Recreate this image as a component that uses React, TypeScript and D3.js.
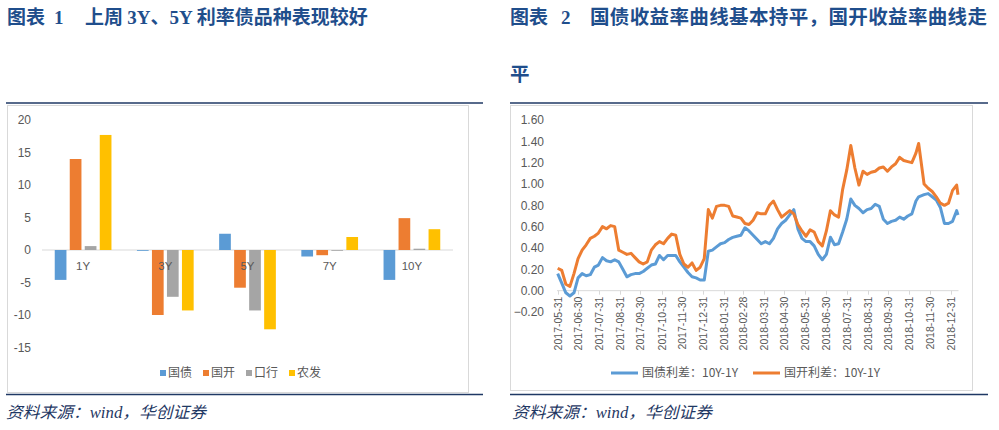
import React from "react";
import * as d3 from "d3";

// chart 1: weekly change by tenor (bp)
const categories = ["1Y", "3Y", "5Y", "7Y", "10Y"];
const barSeries = ["国债", "国开", "口行", "农发"];
const guozhai = [-4.6, -0.1, 2.5, -1.0, -4.6];
const guokai = [14.0, -10.0, -5.8, -0.8, 4.9];
const kouhang = [0.6, -7.2, -9.3, -0.1, 0.2];
const nongfa = [17.7, -9.3, -12.2, 2.0, 3.2];
const barTicks = [20, 15, 10, 5, 0, -5, -10, -15];
const barColors = ["#5b9bd5", "#ed7d31", "#a5a5a5", "#ffc000"];

// chart 2: 10Y-1Y spreads
const spreadDates = [
  "2017-05-31", "2017-06-06", "2017-06-12", "2017-06-18", "2017-06-24", "2017-06-30",
  "2017-07-06", "2017-07-12", "2017-07-18", "2017-07-24", "2017-07-30", "2017-08-05",
  "2017-08-11", "2017-08-17", "2017-08-23", "2017-08-29", "2017-09-04", "2017-09-10",
  "2017-09-16", "2017-09-22", "2017-09-28", "2017-10-04", "2017-10-10", "2017-10-16",
  "2017-10-22", "2017-10-28", "2017-11-03", "2017-11-09", "2017-11-15", "2017-11-21",
  "2017-11-27", "2017-12-03", "2017-12-09", "2017-12-15", "2017-12-21", "2017-12-27",
  "2018-01-02", "2018-01-08", "2018-01-14", "2018-01-20", "2018-01-26", "2018-02-01",
  "2018-02-07", "2018-02-13", "2018-02-19", "2018-02-25", "2018-03-03", "2018-03-09",
  "2018-03-15", "2018-03-21", "2018-03-27", "2018-04-02", "2018-04-08", "2018-04-14",
  "2018-04-20", "2018-04-26", "2018-05-02", "2018-05-08", "2018-05-14", "2018-05-20",
  "2018-05-26", "2018-06-01", "2018-06-07", "2018-06-13", "2018-06-19", "2018-06-25",
  "2018-07-01", "2018-07-07", "2018-07-13", "2018-07-19", "2018-07-25", "2018-07-31",
  "2018-08-06", "2018-08-12", "2018-08-18", "2018-08-24", "2018-08-30", "2018-09-05",
  "2018-09-11", "2018-09-17", "2018-09-23", "2018-09-29", "2018-10-05", "2018-10-11",
  "2018-10-17", "2018-10-23", "2018-10-29", "2018-11-04", "2018-11-10", "2018-11-14",
  "2018-11-22", "2018-11-28", "2018-12-04", "2018-12-10", "2018-12-16", "2018-12-22",
  "2018-12-28", "2019-01-03", "2019-01-09", "2019-01-11",
];
const gbSpread = [
  0.16, 0.07, -0.02, -0.05, -0.02, 0.12, 0.16, 0.14, 0.15, 0.22,
  0.24, 0.31, 0.28, 0.27, 0.29, 0.27, 0.2, 0.13, 0.15, 0.16,
  0.16, 0.18, 0.21, 0.24, 0.25, 0.33, 0.29, 0.33, 0.33, 0.33,
  0.27, 0.22, 0.17, 0.13, 0.12, 0.1, 0.1, 0.37, 0.38, 0.41,
  0.44, 0.45, 0.48, 0.5, 0.51, 0.52, 0.59, 0.56, 0.52, 0.48,
  0.44, 0.46, 0.44, 0.49, 0.58, 0.63, 0.66, 0.71, 0.76, 0.58,
  0.49, 0.46, 0.46, 0.42, 0.34, 0.29, 0.34, 0.5, 0.43, 0.44,
  0.55, 0.67, 0.86, 0.8, 0.77, 0.73, 0.76, 0.77, 0.81, 0.79,
  0.67, 0.63, 0.65, 0.66, 0.69, 0.67, 0.7, 0.72, 0.84, 0.88,
  0.9, 0.91, 0.88, 0.85, 0.78, 0.63, 0.63, 0.65, 0.75, 0.71,
];
const gkSpread = [
  0.21, 0.19, 0.06, 0.04, 0.16, 0.3, 0.38, 0.43, 0.49, 0.51,
  0.54, 0.6, 0.58, 0.61, 0.6, 0.38, 0.36, 0.34, 0.35, 0.31,
  0.27, 0.25, 0.27, 0.38, 0.43, 0.46, 0.44, 0.49, 0.53, 0.52,
  0.34, 0.25, 0.22, 0.26, 0.19, 0.22, 0.3, 0.76, 0.68, 0.79,
  0.8, 0.8, 0.79, 0.7, 0.69, 0.68, 0.63, 0.62, 0.66, 0.73,
  0.72, 0.72, 0.8, 0.84, 0.76, 0.69, 0.72, 0.75, 0.72, 0.62,
  0.56, 0.51, 0.57, 0.55, 0.46, 0.42, 0.56, 0.75, 0.71, 0.69,
  0.95, 1.13, 1.36, 1.15, 0.99, 1.12, 1.09, 1.11, 1.12, 1.15,
  1.16, 1.12, 1.16, 1.19, 1.25, 1.22, 1.21, 1.2, 1.29, 1.38,
  1.0, 0.96, 0.93, 0.88, 0.82, 0.8, 0.82, 0.94, 0.99, 0.9,
];
const monthTicks = [
  "2017-05-31", "2017-06-30", "2017-07-31", "2017-08-31", "2017-09-30", "2017-10-31",
  "2017-11-30", "2017-12-31", "2018-01-31", "2018-02-28", "2018-03-31", "2018-04-30",
  "2018-05-31", "2018-06-30", "2018-07-31", "2018-08-31", "2018-09-30", "2018-10-31",
  "2018-11-30", "2018-12-31",
];
const spreadTicks = [1.6, 1.4, 1.2, 1.0, 0.8, 0.6, 0.4, 0.2, 0.0, -0.2];

const NAVY = "#1f3864";
const TITLE = "#1f4e8c";
const GREY_TXT = "#595959";
const AXIS = "#d9d9d9";
const CJK = "'Noto Sans CJK SC', sans-serif";
const NUM = "'Liberation Sans', Arial, sans-serif";
const SERIF = "'Liberation Serif', 'Times New Roman', serif";

const parse = d3.timeParse("%Y-%m-%d");

function BarPanel() {
  const y = d3.scaleLinear().domain([-15, 20]).range([347.5, 120]);
  const x0 = d3.scaleBand().domain(categories).range([42, 453]).paddingInner(0.31).paddingOuter(0.155);
  const x1 = d3.scaleBand().domain(barSeries).range([0, x0.bandwidth()]).paddingInner(0.22);
  const seriesValues = [guozhai, guokai, kouhang, nongfa];

  return (
    <g>
      <rect x={7.5} y={105.5} width={461} height={287} fill="#fff" stroke={AXIS} />
      {barTicks.map((t) => (
        <text key={t} x={31} y={y(t)} dy="0.35em" textAnchor="end" fontSize={12} fontFamily={NUM} fill={GREY_TXT}>
          {t}
        </text>
      ))}
      <line x1={42} x2={453} y1={y(0)} y2={y(0)} stroke={AXIS} />
      {categories.map((c, ci) =>
        barSeries.map((s, si) => {
          const v = seriesValues[si][ci];
          return (
            <rect
              key={c + s}
              x={(x0(c) as number) + (x1(s) as number)}
              y={Math.min(y(v), y(0))}
              width={x1.bandwidth()}
              height={Math.max(Math.abs(y(v) - y(0)), 0.8)}
              fill={barColors[si]}
            />
          );
        })
      )}
      {categories.map((c) => (
        <text key={c} x={(x0(c) as number) + x0.bandwidth() / 2} y={266} dy="0.35em" textAnchor="middle" fontSize={11.5} fontFamily={NUM} fill={GREY_TXT}>
          {c}
        </text>
      ))}
      {barSeries.map((s, i) => (
        <g key={s} transform={`translate(${160 + i * 43},373)`}>
          <rect x={0} y={-3} width={6} height={6} fill={barColors[i]} />
          <text x={8} y={0} dy="0.35em" fontSize={12} fontFamily={CJK} fill={GREY_TXT}>
            {s}
          </text>
        </g>
      ))}
    </g>
  );
}

function LinePanel() {
  const dates = spreadDates.map((d) => parse(d) as Date);
  const x = d3.scaleTime().domain([dates[0], dates[dates.length - 1]]).range([557.7, 958]);
  const y = d3.scaleLinear().domain([-0.2, 1.6]).range([312, 120]);
  const line = d3
    .line<number>()
    .x((_, i) => x(dates[i]))
    .y((v) => y(v));
  const fmt = d3.format(".2f");

  return (
    <g>
      <rect x={510.5} y={105.5} width={462} height={285} fill="#fff" stroke={AXIS} />
      {spreadTicks.map((t) => (
        <text key={t} x={544} y={y(t)} dy="0.35em" textAnchor="end" fontSize={12} fontFamily={NUM} fill={GREY_TXT}>
          {fmt(t)}
        </text>
      ))}
      <line x1={557} x2={958.5} y1={y(0)} y2={y(0)} stroke={AXIS} />
      {monthTicks.map((t) => {
        const tx = Math.round(x(parse(t) as Date)) + 0.5;
        return (
          <g key={t}>
            <line x1={tx} x2={tx} y1={y(0)} y2={y(0) + 4} stroke={AXIS} />
            <text
              transform={`translate(${tx},${y(0) + 6}) rotate(-90)`}
              dy="0.35em"
              textAnchor="end"
              fontSize={10.5}
              fontFamily={NUM}
              fill={GREY_TXT}
            >
              {t}
            </text>
          </g>
        );
      })}
      <path d={line(gbSpread) as string} fill="none" stroke="#5b9bd5" strokeWidth={3} strokeLinejoin="round" />
      <path d={line(gkSpread) as string} fill="none" stroke="#ed7d31" strokeWidth={3} strokeLinejoin="round" />
      <line x1={611} x2={638} y1={373} y2={373} stroke="#5b9bd5" strokeWidth={3} />
      <text x={642} y={373} dy="0.35em" fontSize={12} fontFamily={CJK} fill={GREY_TXT}>
        国债利差：10Y-1Y
      </text>
      <line x1={753} x2={780} y1={373} y2={373} stroke="#ed7d31" strokeWidth={3} />
      <text x={784} y={373} dy="0.35em" fontSize={12} fontFamily={CJK} fill={GREY_TXT}>
        国开利差：10Y-1Y
      </text>
    </g>
  );
}

export default function App() {
  return (
    <svg width={999} height={430} style={{ position: "absolute", left: 0, top: 0, background: "#fff" }}>
      <rect width={999} height={430} fill="#fff" />
      {/* titles */}
      <text y={24} fontSize={19} fontWeight="bold" fill={TITLE} fontFamily={CJK}>
        <tspan x={7}>图表</tspan>
        <tspan x={54} fontFamily={SERIF}>1</tspan>
        <tspan x={85}>上周 </tspan>
        <tspan fontFamily={SERIF}>3Y</tspan>
        <tspan>、</tspan>
        <tspan fontFamily={SERIF}>5Y </tspan>
        <tspan>利率债品种表现较好</tspan>
      </text>
      <text y={24} fontSize={19} fontWeight="bold" fill={TITLE} fontFamily={CJK}>
        <tspan x={510}>图表</tspan>
        <tspan x={561} fontFamily={SERIF}>2</tspan>
      </text>
      <text x={590} y={24} fontSize={19.5} fontWeight="bold" fill={TITLE} fontFamily={CJK} textLength={397} lengthAdjust="spacing">
        国债收益率曲线基本持平，国开收益率曲线走
      </text>
      <text x={510} y={81} fontSize={19.5} fontWeight="bold" fill={TITLE} fontFamily={CJK}>
        平
      </text>

      {/* rules */}
      <line x1={6} x2={483} y1={103} y2={103} stroke={NAVY} strokeWidth={1.5} />
      <line x1={510} x2={988} y1={103} y2={103} stroke={NAVY} strokeWidth={1.5} />
      <line x1={6} x2={483} y1={394.5} y2={394.5} stroke={NAVY} strokeWidth={1.5} />
      <line x1={510} x2={988} y1={394.5} y2={394.5} stroke={NAVY} strokeWidth={1.5} />

      <BarPanel />
      <LinePanel />

      {/* sources */}
      <text x={6} y={418} fontSize={16} fontStyle="italic" fill={NAVY} fontFamily={CJK} textLength={200} lengthAdjust="spacingAndGlyphs">
        资料来源：<tspan fontFamily={SERIF}>wind</tspan>，华创证券
      </text>
      <text x={512} y={418} fontSize={16} fontStyle="italic" fill={NAVY} fontFamily={CJK} textLength={200} lengthAdjust="spacingAndGlyphs">
        资料来源：<tspan fontFamily={SERIF}>wind</tspan>，华创证券
      </text>
    </svg>
  );
}
